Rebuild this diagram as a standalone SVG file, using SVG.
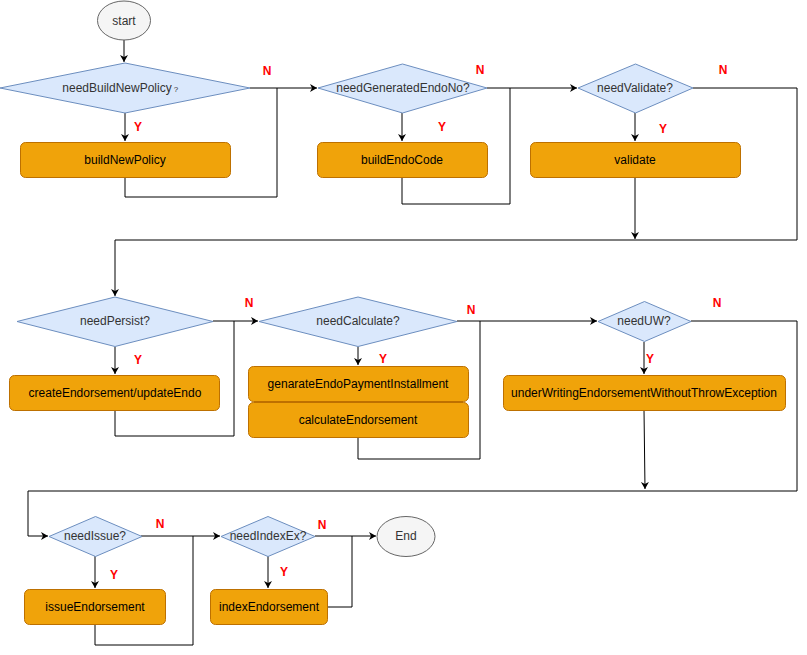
<svg xmlns="http://www.w3.org/2000/svg" width="807" height="655" viewBox="0 0 807 655">
<defs>
<marker id="arr" markerWidth="10" markerHeight="10" refX="7" refY="4" orient="auto" markerUnits="userSpaceOnUse">
<path d="M0,0 L7,4 L0,8 L2,4 Z" fill="#000"/>
</marker>
<style>
.dec{fill:#dae8fc;stroke:#6c8ebf;stroke-width:1}
.proc{fill:#f0a30a;stroke:#bd7000;stroke-width:1}
.term{fill:#f5f5f5;stroke:#666;stroke-width:1}
text{font-family:"Liberation Sans",Arial,Helvetica,sans-serif;font-size:12px;text-anchor:middle;dominant-baseline:central}
.t{fill:#333}
.pt{fill:#000}
.lbl{fill:#ff0000;font-weight:bold}
.c{fill:none;stroke:#000;stroke-width:1}
.ca{fill:none;stroke:#000;stroke-width:1;marker-end:url(#arr)}
</style>
</defs>
<rect width="807" height="655" fill="#fff"/>

<g id="connectors">
<path class="ca" d="M124,40 L124,62"/>
<path class="ca" d="M125,113 L125,141"/>
<path class="c" d="M125,177 L125,197 L277,197 L277,88"/>
<path class="ca" d="M250,88 L317,88"/>
<path class="ca" d="M402,113 L402,141"/>
<path class="c" d="M402,177 L402,204 L510,204 L510,88"/>
<path class="ca" d="M487,88 L577,88"/>
<path class="ca" d="M635,113 L635,141"/>
<path class="ca" d="M635,177 L635,239"/>
<path class="ca" d="M693,88 L797,88 L797,240 L115,240 L115,296"/>
<path class="ca" d="M115,347 L115,374"/>
<path class="c" d="M115,410 L115,436 L234,436 L234,321"/>
<path class="ca" d="M213,321 L258,321"/>
<path class="ca" d="M358,347 L358,365"/>
<path class="c" d="M358,437 L358,459 L480,459 L480,321"/>
<path class="ca" d="M457,321 L597,321"/>
<path class="ca" d="M644,342 L644,374"/>
<path class="ca" d="M644,410 L645,489"/>
<path class="ca" d="M691,321 L797,321 L797,491 L28,491 L28,536 L48,536"/>
<path class="ca" d="M95,556 L95,588"/>
<path class="c" d="M95,625 L95,645 L193,645 L193,536"/>
<path class="ca" d="M141,536 L220,536"/>
<path class="ca" d="M268,556 L268,588"/>
<path class="c" d="M327,607 L352,607 L352,536"/>
<path class="ca" d="M315,536 L376,536"/>
</g>

<g id="labels">
<text class="lbl" x="267" y="71">N</text>
<text class="lbl" x="138" y="127">Y</text>
<text class="lbl" x="480" y="70">N</text>
<text class="lbl" x="442" y="127">Y</text>
<text class="lbl" x="723" y="70">N</text>
<text class="lbl" x="663" y="129">Y</text>
<text class="lbl" x="249" y="303">N</text>
<text class="lbl" x="138" y="360">Y</text>
<text class="lbl" x="471" y="310">N</text>
<text class="lbl" x="383" y="359">Y</text>
<text class="lbl" x="717" y="303">N</text>
<text class="lbl" x="650" y="359">Y</text>
<text class="lbl" x="160" y="524">N</text>
<text class="lbl" x="114" y="575">Y</text>
<text class="lbl" x="322" y="525">N</text>
<text class="lbl" x="284" y="572">Y</text>
</g>

<g id="start">
<ellipse class="term" cx="124" cy="20.5" rx="26.5" ry="19.5"/>
<text class="t" x="124" y="20.5">start</text>
</g>

<g id="needBuildNewPolicy">
<polygon class="dec" points="0,88 125,63 250,88 125,113"/>
<text class="t" x="117" y="88">needBuildNewPolicy</text>
<text class="t" x="176" y="89" style="font-size:8px">?</text>
</g>
<g id="buildNewPolicy">
<rect class="proc" x="20.5" y="142.5" width="210" height="35" rx="5"/>
<text class="pt" x="125" y="160">buildNewPolicy</text>
</g>

<g id="needGeneratedEndoNo">
<polygon class="dec" points="318,88 402.5,64 487,88 402.5,113"/>
<text class="t" x="403" y="88">needGeneratedEndoNo?</text>
</g>
<g id="buildEndoCode">
<rect class="proc" x="317.5" y="142.5" width="170" height="35" rx="5"/>
<text class="pt" x="402" y="160">buildEndoCode</text>
</g>

<g id="needValidate">
<polygon class="dec" points="578,88 635.5,64 693,88 635.5,113"/>
<text class="t" x="635" y="88">needValidate?</text>
</g>
<g id="validate">
<rect class="proc" x="530.5" y="142.5" width="210" height="35" rx="5"/>
<text class="pt" x="635" y="160">validate</text>
</g>

<g id="needPersist">
<polygon class="dec" points="17,321.5 115,297 213,321.5 115,346.5"/>
<text class="t" x="115" y="321">needPersist?</text>
</g>
<g id="createEndorsement">
<rect class="proc" x="9.5" y="375.5" width="210" height="35" rx="5"/>
<text class="pt" x="115" y="393">createEndorsement/updateEndo</text>
</g>

<g id="needCalculate">
<polygon class="dec" points="259,321.5 358,297 457,321.5 358,346.5"/>
<text class="t" x="358" y="321">needCalculate?</text>
</g>
<g id="genarateEndoPaymentInstallment">
<rect class="proc" x="248.5" y="366.5" width="220" height="35" rx="5"/>
<text class="pt" x="358" y="384">genarateEndoPaymentInstallment</text>
</g>
<g id="calculateEndorsement">
<rect class="proc" x="248.5" y="402.5" width="220" height="35" rx="5"/>
<text class="pt" x="358" y="420">calculateEndorsement</text>
</g>

<g id="needUW">
<polygon class="dec" points="598,321.5 644.5,301.5 691,321.5 644.5,341.5"/>
<text class="t" x="644" y="321">needUW?</text>
</g>
<g id="underWriting">
<rect class="proc" x="503.5" y="375.5" width="282" height="35" rx="5"/>
<text class="pt" x="644" y="393">underWritingEndorsementWithoutThrowException</text>
</g>

<g id="needIssue">
<polygon class="dec" points="49,536.5 95.5,516.5 142,536.5 95.5,556.5"/>
<text class="t" x="95" y="536">needIssue?</text>
</g>
<g id="issueEndorsement">
<rect class="proc" x="24.5" y="589.5" width="141" height="35" rx="5"/>
<text class="pt" x="95" y="607">issueEndorsement</text>
</g>

<g id="needIndexEx">
<polygon class="dec" points="221,536.5 268,516.5 315,536.5 268,556.5"/>
<text class="t" x="268" y="536">needIndexEx?</text>
</g>
<g id="indexEndorsement">
<rect class="proc" x="210.5" y="589.5" width="117" height="35" rx="5"/>
<text class="pt" x="269" y="607">indexEndorsement</text>
</g>

<g id="end">
<ellipse class="term" cx="406" cy="536.5" rx="29" ry="20"/>
<text class="t" x="406" y="536">End</text>
</g>
</svg>
